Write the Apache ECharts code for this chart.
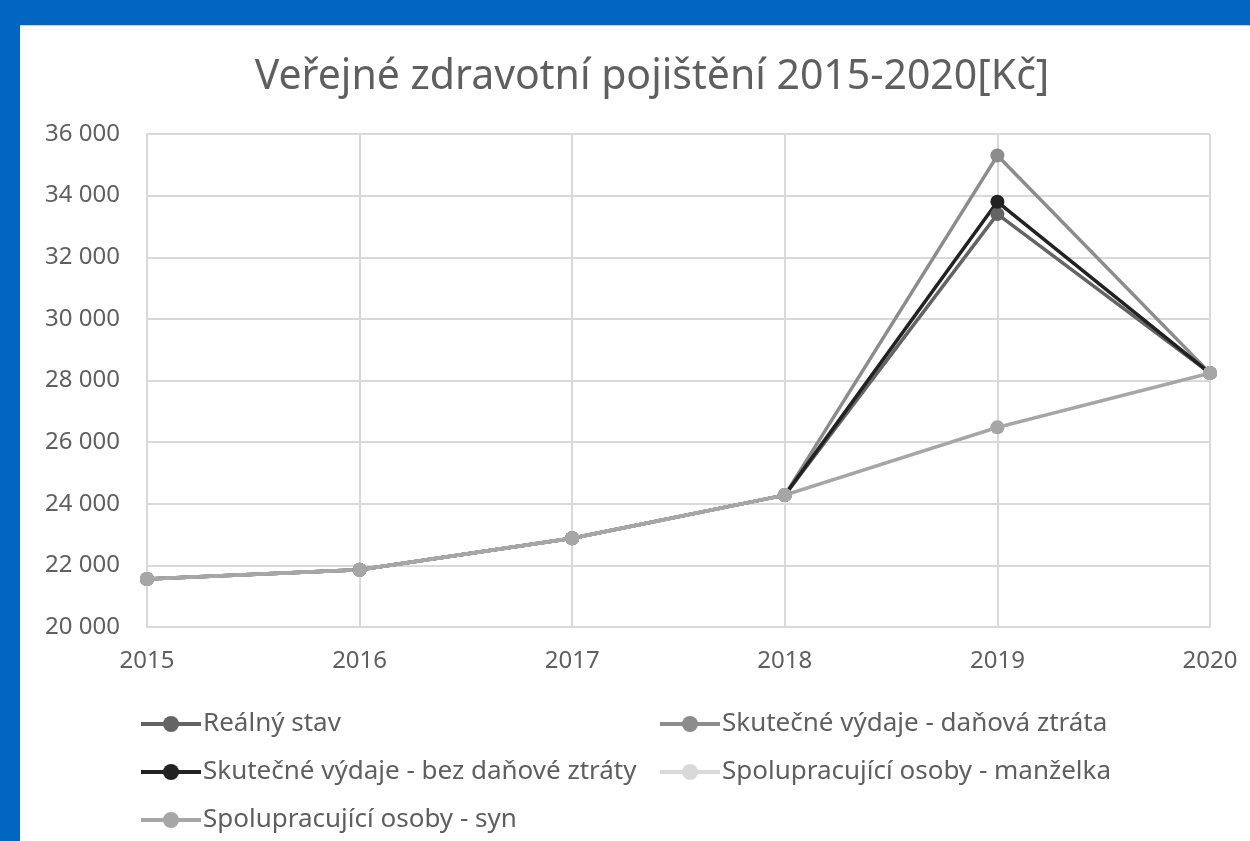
<!DOCTYPE html>
<html>
<head>
<meta charset="utf-8">
<script src="https://cdn.jsdelivr.net/npm/echarts@6/dist/echarts.min.js"></script>
<style>
  html, body { margin: 0; padding: 0; background: #0066bf; }
  #panel { position: absolute; left: 20px; top: 25px; width: 1230px; height: 816px; background: #fff; border-top: 1px solid #d0d0d0; box-sizing: border-box; }
  #chart { width: 100%; height: 100%; }
</style>
</head>
<body>
<div id="panel"><div id="chart"></div></div>
<script>
var years = ['2015', '2016', '2017', '2018', '2019', '2020']
var realnyStav = [21560, 21860, 22880, 24280, 33400, 28240]
var danovaZtrata = [21560, 21860, 22880, 24280, 35300, 28240]
var bezDanoveZtraty = [21560, 21860, 22880, 24280, 33800, 28240]
var manzelka = [21560, 21860, 22880, 24280, 26480, 28240]
var syn = [21560, 21860, 22880, 24280, 26480, 28240]

var names = ['Reálný stav', 'Skutečné výdaje - daňová ztráta', 'Skutečné výdaje - bez daňové ztráty', 'Spolupracující osoby - manželka', 'Spolupracující osoby - syn']
var colors = ['#646464', '#8c8c8c', '#222222', '#d9d9d9', '#a6a6a6']
var seriesData = [realnyStav, danovaZtrata, bezDanoveZtraty, manzelka, syn]

var font = 'Noto Sans'
var textColor = '#5f5f5f'
var chart = echarts.init(document.getElementById('chart'))

var series = []
for (var i = 0; i < names.length; i++) {
  series.push({
    name: names[i],
    type: 'line',
    data: seriesData[i],
    symbol: 'circle',
    symbolSize: 14,
    color: colors[i],
    lineStyle: { width: 3.5, color: colors[i] },
    itemStyle: { color: colors[i] }
  })
}

var legendBase = {
  orient: 'vertical',
  itemWidth: 60,
  itemHeight: 20,
  itemGap: 22,
  lineStyle: { width: 4 },
  textStyle: { color: textColor, fontSize: 26, fontFamily: font, padding: [0, 0, 0, -3] }
}

var option = {
  animation: false,
  title: {
    text: 'Veřejné zdravotní pojištění 2015-2020[Kč]',
    left: 627,
    textAlign: 'center',
    top: 26,
    textStyle: { color: textColor, fontSize: 41, fontWeight: 'normal', fontFamily: font }
  },
  legend: [
    Object.assign({}, legendBase, { left: 114, top: 680, data: [names[0], names[2], names[4]] }),
    Object.assign({}, legendBase, { left: 633, top: 680, data: [names[1], names[3]] })
  ],
  grid: { left: 127, right: 40, top: 108, bottom: 214, containLabel: false },
  xAxis: {
    type: 'category',
    data: years,
    boundaryGap: false,
    axisLine: { lineStyle: { color: '#d9d9d9', width: 2 } },
    axisTick: { show: false },
    axisLabel: { color: textColor, fontSize: 24, fontFamily: font, margin: 22 },
    splitLine: { show: true, lineStyle: { color: '#d9d9d9', width: 2 } }
  },
  yAxis: {
    type: 'value',
    min: 20000,
    max: 36000,
    interval: 2000,
    axisLine: { show: true, lineStyle: { color: '#d9d9d9', width: 2 } },
    axisTick: { show: false },
    axisLabel: {
      color: textColor, fontSize: 24, fontFamily: font, margin: 27,
      formatter: function (v) { return String(v).replace(/\B(?=(\d{3})+(?!\d))/g, ' ') }
    },
    splitLine: { lineStyle: { color: '#d9d9d9', width: 2 } }
  },
  series: series
}

chart.setOption(option)
</script>
</body>
</html>
